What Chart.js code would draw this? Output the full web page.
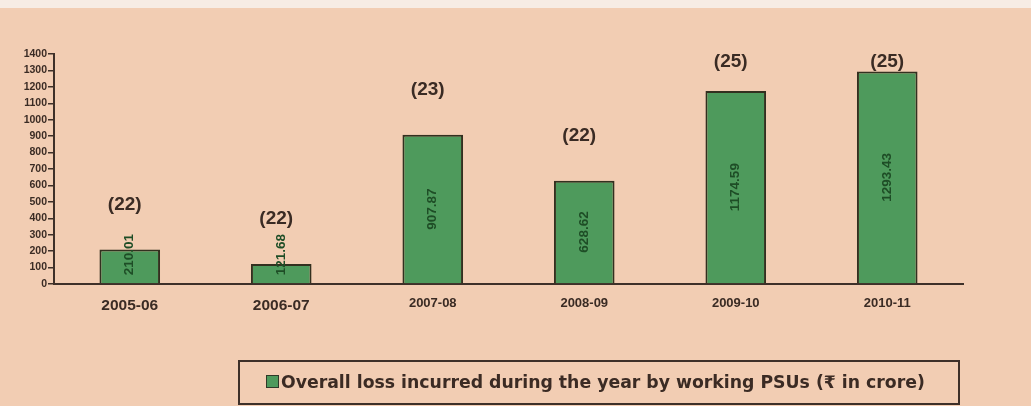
<!DOCTYPE html>
<html>
<head>
<meta charset="utf-8">
<script src="https://cdn.jsdelivr.net/npm/chart.js@4"></script>
<style>
  html, body { margin: 0; padding: 0; }
  body { width: 1031px; height: 406px; background: #f2cdb3; position: relative; overflow: hidden; }
  #topstrip { position: absolute; left: 0; top: 0; width: 1031px; height: 8px; background: #f7ece4; }
  #wrap { position: absolute; left: 0; top: 0; width: 1031px; height: 406px; }
  #legend { position: absolute; left: 238px; top: 360px; width: 718px; height: 41px;
    border: 2px solid #3e3029; box-sizing: content-box;
    font-family: "DejaVu Sans", Verdana, sans-serif; font-weight: bold; font-size: 17.3px;
    color: #3b2b24; line-height: 41px; white-space: nowrap; }
  #legend .sw { display: inline-block; width: 11px; height: 11px; background: #4e9a5c;
    border: 1px solid #2f3a28; margin-left: 26px; margin-right: 2px; vertical-align: 0px; }
</style>
</head>
<body>
<div id="topstrip"></div>
<div id="wrap"><canvas id="c" width="1031" height="406"></canvas></div>
<div id="legend"><span class="sw"></span><span id="legtext"></span></div>
<script>
// ---- data ----
const categories = ['2005-06', '2006-07', '2007-08', '2008-09', '2009-10', '2010-11'];
const lossValues = [210.01, 121.68, 907.87, 628.62, 1174.59, 1293.43];
const valueLabels = ['210.01', '121.68', '907.87', '628.62', '1174.59', '1293.43'];
const psuCounts = ['(22)', '(22)', '(23)', '(22)', '(25)', '(25)'];
const seriesName = 'Overall loss incurred during the year by working PSUs (\u20B9 in crore)';
const yMin = 0, yMax = 1400, yStep = 100;

document.getElementById('legtext').textContent = seriesName;

const textColor = '#3a2b24';
const axisColor = '#3e3029';

const labelPlugin = {
  id: 'barLabels',
  afterDatasetsDraw(chart) {
    const ctx = chart.ctx;
    const meta = chart.getDatasetMeta(0);
    const area = chart.chartArea;
    ctx.save();
    meta.data.forEach((bar, i) => {
      ctx.save();
      ctx.font = 'bold 13.5px "Liberation Sans", Arial, sans-serif';
      const tw = ctx.measureText(valueLabels[i]).width;
      const h = bar.base - bar.y;
      let cy = bar.y + h / 2;
      if (tw + 8 > h) cy = bar.base - 8 - tw / 2;
      ctx.translate(bar.x, cy);
      ctx.rotate(-Math.PI / 2);
      ctx.fillStyle = '#1e4d26';
      ctx.textAlign = 'center';
      ctx.textBaseline = 'middle';
      ctx.fillText(valueLabels[i], 0, 0);
      ctx.restore();
      ctx.font = 'bold 19px "Liberation Sans", Arial, sans-serif';
      ctx.fillStyle = textColor;
      ctx.textAlign = 'center';
      ctx.textBaseline = 'middle';
      const ly = Math.max(bar.y - 45, area.top + 8);
      const lx = i === meta.data.length - 1 ? bar.x : bar.x - 5;
      ctx.fillText(psuCounts[i], lx, ly);
    });
    ctx.restore();
  }
};

new Chart(document.getElementById('c'), {
  type: 'bar',
  data: {
    labels: categories,
    datasets: [{
      label: seriesName,
      data: lossValues,
      backgroundColor: '#4e9a5c',
      borderColor: '#33301f',
      borderWidth: 2,
      categoryPercentage: 1.0,
      barPercentage: 0.4
    }]
  },
  options: {
    responsive: false,
    animation: false,
    devicePixelRatio: 1,
    layout: { padding: { left: 0, top: 54, right: 68, bottom: 92 } },
    plugins: { legend: { display: false }, tooltip: { enabled: false } },
    scales: {
      x: {
        grid: { display: false, drawTicks: false },
        border: { display: true, color: axisColor, width: 2 },
        ticks: {
          color: textColor,
          padding: 12,
          font: (c) => ({ family: '"Liberation Sans", Arial, sans-serif', weight: 'bold', size: c.index < 2 ? 15.5 : 13 })
        },
        afterFit: (s) => { s.height = 30; }
      },
      y: {
        min: yMin, max: yMax,
        grid: { display: true, drawOnChartArea: false, drawTicks: true, tickLength: 6, color: axisColor, lineWidth: 1.5 },
        border: { display: true, color: axisColor, width: 2 },
        ticks: {
          stepSize: yStep,
          autoSkip: false,
          color: textColor,
          padding: 1,
          callback: (v) => String(v),
          font: { family: '"Liberation Sans", Arial, sans-serif', weight: 'bold', size: 10.5 }
        },
        afterFit: (s) => { s.width = 54; }
      }
    }
  },
  plugins: [labelPlugin]
});
</script>
</body>
</html>
